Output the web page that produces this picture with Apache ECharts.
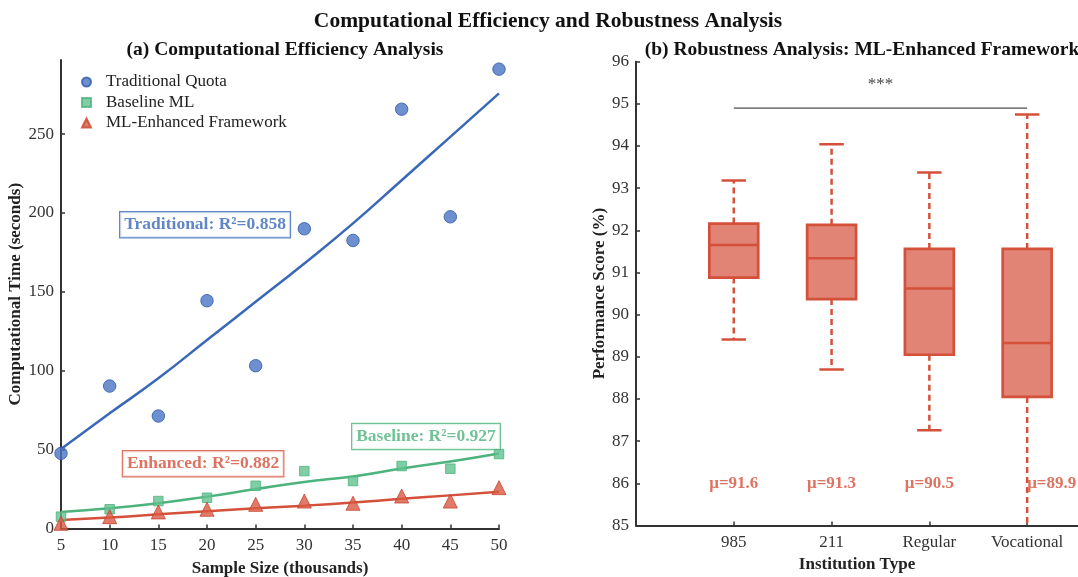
<!DOCTYPE html>
<html>
<head>
    <meta charset="utf-8">
    <title>Computational Efficiency and Robustness Analysis</title>
    <script src="https://cdn.jsdelivr.net/npm/echarts@6/dist/echarts.min.js"></script>
</head>
<body style="margin:0">
    <div id="main" style="width:1078px;height:577px;"></div>
    <script type="text/javascript">
        // panel (a) data
        var sampleSizes = [5, 10, 15, 20, 25, 30, 35, 40, 45, 50];
        var tradTime = [47.6, 90.3, 71.3, 144.4, 103.2, 190.0, 182.6, 265.8, 197.6, 291.2];
        var baseTime = [7.5, 12.2, 17.4, 19.5, 27.1, 36.4, 30.1, 39.6, 37.9, 47.2];
        var enhTime = [3.3, 7.5, 10.5, 12.2, 15.3, 17.4, 16.0, 20.6, 17.4, 25.9];
        var tradFit = [50.4, 73.0, 95.2, 119.5, 143.7, 168.0, 193.4, 220.8, 248.3, 275.8];
        var baseFit = [10.5, 12.8, 16.0, 20.2, 25.0, 29.5, 33.0, 38.0, 42.5, 47.6];
        var enhFit = [5.4, 7.0, 9.0, 11.0, 12.8, 14.5, 16.5, 18.8, 21.0, 23.3];
        var timeTicks = [0, 50, 100, 150, 200, 250];
        var r2Labels = ['Traditional: R²=0.858', 'Baseline: R²=0.927', 'Enhanced: R²=0.882'];
        var r2Pos = [[19.8, 192.6], [42.5, 58.3], [19.6, 41.0]];

        // panel (b) data
        var institutions = ['985', '211', 'Regular', 'Vocational'];
        var whiskerLow = [89.41, 88.70, 87.26, 84.6];
        var q1 = [90.88, 90.37, 89.05, 88.05];
        var median = [91.65, 91.34, 90.62, 89.33];
        var q3 = [92.16, 92.13, 91.56, 91.56];
        var whiskerHigh = [93.18, 94.04, 93.37, 94.75];
        var means = [91.6, 91.3, 90.5, 89.9];
        var perfMin = 85, perfMax = 96;

        var serif = 'Liberation Serif';
        var blue = '#3A68B8', green = '#4DB37D', red = '#D4503A';

        function pairs(xs, ys) {
            return xs.map(function (x, i) { return [x, ys[i]]; });
        }

        var boxData = institutions.map(function (n, i) {
            return [i + 1, whiskerLow[i], q1[i], median[i], q3[i], whiskerHigh[i]];
        });

        function renderBox(params, api) {
            var x = api.value(0), lo = api.value(1), b1 = api.value(2),
                md = api.value(3), b3 = api.value(4), hi = api.value(5);
            var half = 0.25, cap = 0.125;
            var c = function (a, b) { return api.coord([a, b]); };
            var dash = { stroke: red, lineWidth: 2.5, lineDash: [6, 4] };
            var solid = { stroke: red, lineWidth: 2.5 };
            var kids = [];
            var top = c(x, hi), up = c(x, b3);
            kids.push({ type: 'line', shape: { x1: up[0], y1: up[1], x2: top[0], y2: top[1] }, style: dash });
            var capL = c(x - cap, hi), capR = c(x + cap, hi);
            kids.push({ type: 'line', shape: { x1: capL[0], y1: capL[1], x2: capR[0], y2: capR[1] }, style: solid });
            var loC = Math.max(lo, perfMin);
            var bot = c(x, loC), dn = c(x, b1);
            kids.push({ type: 'line', shape: { x1: dn[0], y1: dn[1], x2: bot[0], y2: bot[1] }, style: dash });
            if (lo >= perfMin) {
                var cl = c(x - cap, lo), cr = c(x + cap, lo);
                kids.push({ type: 'line', shape: { x1: cl[0], y1: cl[1], x2: cr[0], y2: cr[1] }, style: solid });
            }
            var p1 = c(x - half, b3), p2 = c(x + half, b1);
            kids.push({ type: 'rect', shape: { x: p1[0], y: p1[1], width: p2[0] - p1[0], height: p2[1] - p1[1] },
                style: { fill: 'rgba(212,80,58,0.7)', stroke: red, lineWidth: 2.7 } });
            var m1 = c(x - half, md), m2 = c(x + half, md);
            kids.push({ type: 'line', shape: { x1: m1[0], y1: m1[1], x2: m2[0], y2: m2[1] }, style: solid });
            return { type: 'group', children: kids };
        }

        var axisLine = { show: true, lineStyle: { color: '#333', width: 2 } };
        var axisTick = { show: true, inside: true, length: 4, lineStyle: { color: '#333', width: 1.5 } };
        var tickFont = { fontFamily: serif, fontSize: 17, color: '#333', margin: 9 };
        var nameFont = { fontFamily: serif, fontSize: 17, fontWeight: 'bold', color: '#222' };

        var myChart = echarts.init(document.getElementById('main'));
        var option = {
            backgroundColor: '#fff',
            animation: false,
            title: [
                { text: 'Computational Efficiency and Robustness Analysis', left: 543, top: 5, textAlign: 'center',
                  textStyle: { fontFamily: serif, fontSize: 21.5, fontWeight: 'bold', color: '#111' } },
                { text: '(a) Computational Efficiency Analysis', left: 280, top: 35, textAlign: 'center',
                  textStyle: { fontFamily: serif, fontSize: 19.5, fontWeight: 'bold', color: '#111' } },
                { text: '(b) Robustness Analysis: ML-Enhanced Framework', left: 857, top: 35, textAlign: 'center',
                  textStyle: { fontFamily: serif, fontSize: 19.5, fontWeight: 'bold', color: '#111' } }
            ],
            legend: {
                data: [
                    { name: 'Traditional Quota', icon: 'circle' },
                    { name: 'Baseline ML', icon: 'rect' },
                    { name: 'ML-Enhanced Framework', icon: 'triangle' }
                ],
                orient: 'vertical', left: 76, top: 68.5,
                itemWidth: 9, itemHeight: 9, itemGap: 3.5,
                textStyle: { fontFamily: serif, fontSize: 17, color: '#222', padding: [0, 0, 0, 10] }
            },
            grid: [
                { left: 61, right: 579, top: 60, bottom: 48.5, outerBoundsMode: 'none' },
                { left: 636, right: 0, top: 61.7, bottom: 51.5, outerBoundsMode: 'none' }
            ],
            xAxis: [
                { gridIndex: 0, type: 'value', min: 5, max: 50, interval: 5,
                  name: 'Sample Size (thousands)', nameLocation: 'middle', nameGap: 31.5, nameTextStyle: nameFont,
                  axisLine: axisLine, axisTick: axisTick, axisLabel: tickFont, splitLine: { show: false } },
                { gridIndex: 1, type: 'value', min: 0, max: 4.52, interval: 1,
                  name: 'Institution Type', nameLocation: 'middle', nameGap: 31, nameTextStyle: nameFont,
                  axisLine: axisLine,
                  axisTick: { show: true, inside: true, length: 4, lineStyle: { color: '#333', width: 1.5 }, customValues: [1, 2, 3, 4] },
                  axisLabel: { fontFamily: serif, fontSize: 17, color: '#333', margin: 9, customValues: [1, 2, 3, 4],
                      formatter: function (v) { return institutions[Math.round(v) - 1] || ''; } },
                  splitLine: { show: false } }
            ],
            yAxis: [
                { gridIndex: 0, type: 'value', min: 0, max: 297, interval: 50,
                  name: 'Computational Time (seconds)', nameLocation: 'middle', nameGap: 36, nameTextStyle: nameFont,
                  axisLine: axisLine,
                  axisTick: { show: true, inside: true, length: 4, lineStyle: { color: '#333', width: 1.5 }, customValues: timeTicks },
                  axisLabel: { fontFamily: serif, fontSize: 17, color: '#333', margin: 7, customValues: timeTicks },
                  splitLine: { show: false } },
                { gridIndex: 1, type: 'value', min: perfMin, max: perfMax, interval: 1,
                  name: 'Performance Score (%)', nameLocation: 'middle', nameGap: 27, nameTextStyle: nameFont,
                  axisLine: axisLine, axisTick: axisTick,
                  axisLabel: { fontFamily: serif, fontSize: 17, color: '#333', margin: 7 }, splitLine: { show: false } }
            ],
            series: [
                { name: 'Traditional Quota', type: 'scatter', xAxisIndex: 0, yAxisIndex: 0, data: pairs(sampleSizes, tradTime),
                  symbol: 'circle', symbolSize: 12.5, itemStyle: { color: '#4A74C4', borderColor: '#2E5AA8', borderWidth: 1 }, z: 3 },
                { name: 'Baseline ML', type: 'scatter', xAxisIndex: 0, yAxisIndex: 0, data: pairs(sampleSizes, baseTime),
                  symbol: 'rect', symbolSize: 9.5, itemStyle: { color: '#62C090', borderColor: '#4DB37D', borderWidth: 1 }, z: 3 },
                { name: 'ML-Enhanced Framework', type: 'scatter', xAxisIndex: 0, yAxisIndex: 0, data: pairs(sampleSizes, enhTime),
                  symbol: 'triangle', symbolSize: 14, itemStyle: { color: '#DA5A44', borderColor: '#C8452F', borderWidth: 1 }, z: 3 },
                { type: 'line', xAxisIndex: 0, yAxisIndex: 0, data: pairs(sampleSizes, tradFit),
                  showSymbol: false, smooth: true, lineStyle: { color: blue, width: 2.5 }, z: 2 },
                { type: 'line', xAxisIndex: 0, yAxisIndex: 0, data: pairs(sampleSizes, baseFit),
                  showSymbol: false, smooth: true, lineStyle: { color: green, width: 2.5 }, z: 2 },
                { type: 'line', xAxisIndex: 0, yAxisIndex: 0, data: pairs(sampleSizes, enhFit),
                  showSymbol: false, smooth: true, lineStyle: { color: red, width: 2.5 }, z: 2 },
                { type: 'scatter', xAxisIndex: 0, yAxisIndex: 0, symbolSize: 0, silent: true, z: 5,
                  data: r2Pos,
                  label: { show: true, position: 'inside', fontFamily: serif, fontSize: 17.5, fontWeight: 'bold',
                      backgroundColor: '#fff', borderWidth: 1.2, padding: [4, 4, 3, 4],
                      formatter: function (p) { return r2Labels[p.dataIndex]; } },
                  itemStyle: { color: 'transparent' } },
                { type: 'custom', xAxisIndex: 1, yAxisIndex: 1, data: boxData, renderItem: renderBox,
                  encode: { x: 0, y: [1, 2, 3, 4, 5] }, clip: true, z: 2 },
                { type: 'line', xAxisIndex: 1, yAxisIndex: 1, data: [[1, 94.9], [4, 94.9]], showSymbol: false,
                  lineStyle: { color: '#222', width: 1 }, silent: true, z: 3 },
                { type: 'scatter', xAxisIndex: 1, yAxisIndex: 1, data: [[2.5, 95.45]], symbolSize: 0, silent: true,
                  label: { show: true, position: 'inside', formatter: '***', fontFamily: serif, fontSize: 17, color: '#111' } },
                { type: 'scatter', xAxisIndex: 1, yAxisIndex: 1, symbolSize: 0, silent: true,
                  data: means.map(function (m, i) { return [i + 1, 86]; }),
                  label: { show: true, position: 'inside', fontFamily: serif, fontSize: 17, fontWeight: 'bold', color: red,
                      formatter: function (p) { return 'μ=' + means[p.dataIndex].toFixed(1); } } }
            ]
        };
        // per-label colours for the R² boxes
        var r2Colors = [blue, green, red];
        option.series[6].data = r2Pos.map(function (p, i) {
            return { value: p, label: { color: r2Colors[i], borderColor: r2Colors[i] } };
        });
        // last mean label sits to the right of its whisker
        var meanSeries = option.series[10];
        meanSeries.data[3] = { value: meanSeries.data[3], label: { position: 'right', distance: 0 } };
        myChart.setOption(option);
    </script>
</body>
</html>
